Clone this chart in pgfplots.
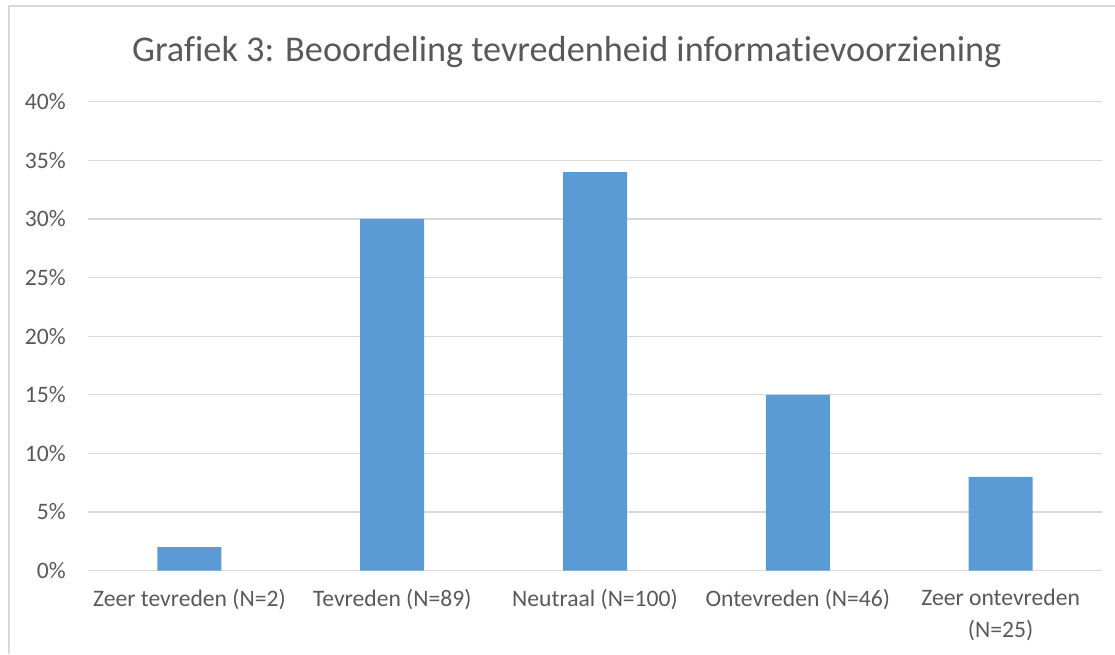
\documentclass[border=0pt]{standalone}
\usepackage{pgfplots}
\pgfplotsset{compat=1.18}
\usepackage{fontspec}
\setmainfont{Carlito}[Ligatures=NoCommon]
\definecolor{barblue}{HTML}{5B9BD5}
\definecolor{gridgray}{HTML}{D9D9D9}
\definecolor{txtgray}{HTML}{595959}
\begin{document}
\begin{tikzpicture}
\useasboundingbox (0,0) rectangle (836.25pt,490.5pt);
\draw[gridgray, line width=1.2pt] (6.75pt,0) -- (6.75pt,486pt) -- (836.25pt,486pt);
\node[anchor=base, text=txtgray, font=\fontsize{27.2}{32}\selectfont, inner sep=0pt] at (425pt,444pt) {Grafiek 3: Beoordeling tevredenheid informatievoorziening};
\begin{axis}[
  at={(66pt,62.5pt)}, anchor=south west,
  scale only axis,
  width=760.5pt, height=351.75pt,
  xmin=-0.5, xmax=4.5, ymin=0, ymax=40,
  axis line style={draw=none},
  major tick length=0pt,
  ymajorgrids, grid style={gridgray, line width=0.9pt},
  ytick={0,5,10,15,20,25,30,35,40},
  yticklabels={0\%,5\%,10\%,15\%,20\%,25\%,30\%,35\%,40\%},
  xtick={0,1,2,3,4},
  xticklabels={Zeer tevreden (N=2),Tevreden (N=89),Neutraal (N=100),Ontevreden (N=46),{Zeer ontevreden\\(N=25)}},
  yticklabel style={inner sep=0pt, xshift=-16.5pt, text=txtgray, font=\fontsize{17.7}{21}\selectfont},
  xticklabel style={inner sep=0pt, yshift=-14pt, text=txtgray, align=center, font=\fontsize{17.7}{23.6}\selectfont},
  ybar, bar width=48pt,
]
\addplot[fill=barblue, draw=none] coordinates {(0,2) (1,30) (2,34) (3,15) (4,8)};
\end{axis}
\end{tikzpicture}
\end{document}
